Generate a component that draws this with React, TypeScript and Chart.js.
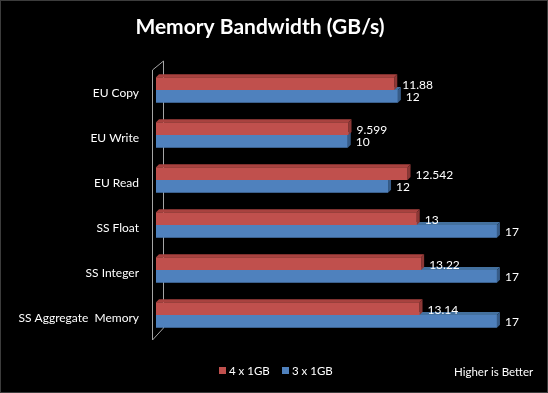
import React, { useEffect, useRef } from "react";
import { Chart, registerables } from "chart.js";

Chart.register(...registerables);

const categories = ["EU Copy", "EU Write", "EU Read", "SS Float", "SS Integer", "SS Aggregate  Memory"];
const series4x1GB = [11.88, 9.599, 12.542, 13, 13.22, 13.14];
const series3x1GB = [12.06, 9.56, 11.57, 17, 17, 17];
const seriesNames = ["4 x 1GB", "3 x 1GB"];
const labelDecimals = [null, 0];
const titleText = "Memory Bandwidth (GB/s)";
const noteText = "Higher is Better";

const FONT = "Lato, 'Open Sans', sans-serif";
const front = ["#C0504D", "#4F81BD"];
const topFace = ["#A9423F", "#44719F"];
const sideFace = ["#8C3836", "#375C88"];

const deco = {
  id: "deco",
  beforeDraw(chart: any) {
    const { ctx, width, height } = chart;
    ctx.save();
    ctx.fillStyle = "#000";
    ctx.fillRect(0, 0, width, height);
    ctx.restore();
  },
  beforeDatasetsDraw(chart: any) {
    const { ctx, chartArea } = chart;
    ctx.save();
    // wall
    const lx = chartArea.left - 3.5;
    const rx = chartArea.left + 7.5;
    ctx.strokeStyle = "#A6A6A6";
    ctx.lineWidth = 1;
    ctx.beginPath();
    ctx.moveTo(lx, chartArea.bottom + 2.5);
    ctx.lineTo(lx, chartArea.top + 2.5);
    ctx.lineTo(rx, chartArea.top - 6.5);
    ctx.lineTo(rx, chartArea.bottom - 9.5);
    ctx.lineTo(lx, chartArea.bottom + 2.5);
    ctx.stroke();
    // 3D faces
    const d = 3;
    for (const di of [1, 0]) {
      const meta = chart.getDatasetMeta(di);
      meta.data.forEach((el: any) => {
        const p = el.getProps(["x", "y", "base", "height"], true);
        const top = p.y - p.height / 2;
        const bottom = p.y + p.height / 2;
        ctx.fillStyle = topFace[di];
        ctx.beginPath();
        ctx.moveTo(p.base, top);
        ctx.lineTo(p.base + d, top - d);
        ctx.lineTo(p.x + d, top - d);
        ctx.lineTo(p.x, top);
        ctx.closePath();
        ctx.fill();
        ctx.fillStyle = sideFace[di];
        ctx.beginPath();
        ctx.moveTo(p.x, top);
        ctx.lineTo(p.x + d, top - d);
        ctx.lineTo(p.x + d, bottom - d);
        ctx.lineTo(p.x, bottom);
        ctx.closePath();
        ctx.fill();
      });
    }
    ctx.restore();
  },
  afterDatasetsDraw(chart: any) {
    const { ctx, width, height } = chart;
    ctx.save();
    // data labels
    ctx.font = `12px ${FONT}`;
    ctx.fillStyle = "#FFFFFF";
    ctx.textBaseline = "middle";
    ctx.textAlign = "left";
    chart.data.datasets.forEach((ds: any, di: number) => {
      const meta = chart.getDatasetMeta(di);
      meta.data.forEach((el: any, i: number) => {
        const v = ds.data[i];
        const dec = labelDecimals[di];
        const txt = dec === null ? String(v) : v.toFixed(dec);
        ctx.fillText(txt, el.x + 8, el.y + 1);
      });
    });
    // title
    ctx.font = `bold 21px ${FONT}`;
    ctx.textAlign = "center";
    ctx.fillText(titleText, 260, 27);
    // legend
    ctx.font = `11.5px ${FONT}`;
    ctx.textAlign = "left";
    const lx = [219, 282];
    chart.data.datasets.forEach((ds: any, di: number) => {
      ctx.fillStyle = front[di];
      ctx.fillRect(lx[di], 367, 7, 7);
      ctx.fillStyle = "#FFFFFF";
      ctx.fillText(ds.label, lx[di] + 10, 371);
    });
    ctx.fillText(noteText, 454, 372);
    // border
    ctx.strokeStyle = "#3C3C3C";
    ctx.strokeRect(0.5, 0.5, width - 1, height - 1);
    ctx.restore();
  },
};

export default function App() {
  const ref = useRef<HTMLCanvasElement>(null);
  useEffect(() => {
    document.body.style.margin = "0";
    const chart = new Chart(ref.current!, {
      type: "bar",
      data: {
        labels: categories,
        datasets: [
          { label: seriesNames[0], data: series4x1GB, backgroundColor: front[0], borderWidth: 0 },
          { label: seriesNames[1], data: series3x1GB, backgroundColor: front[1], borderWidth: 0 },
        ],
      },
      options: {
        indexAxis: "y",
        responsive: false,
        animation: false,
        devicePixelRatio: 1,
        layout: { padding: { top: 67.5, bottom: 55.5, right: 31, left: 0 } },
        datasets: { bar: { barPercentage: 1, categoryPercentage: 0.565 } },
        plugins: { legend: { display: false }, title: { display: false }, tooltip: { enabled: false } },
        scales: {
          x: { display: false, min: 0, max: 18 },
          y: {
            afterFit: (s: any) => { s.width = 156; },
            grid: { display: false, drawTicks: false },
            border: { display: false },
            ticks: { color: "#FFFFFF", padding: 17, labelOffset: 3.5, font: { family: FONT, size: 12 } },
          },
        },
      } as any,
      plugins: [deco],
    });
    return () => chart.destroy();
  }, []);
  return <canvas ref={ref} width={548} height={393} style={{ display: "block" }} />;
}
